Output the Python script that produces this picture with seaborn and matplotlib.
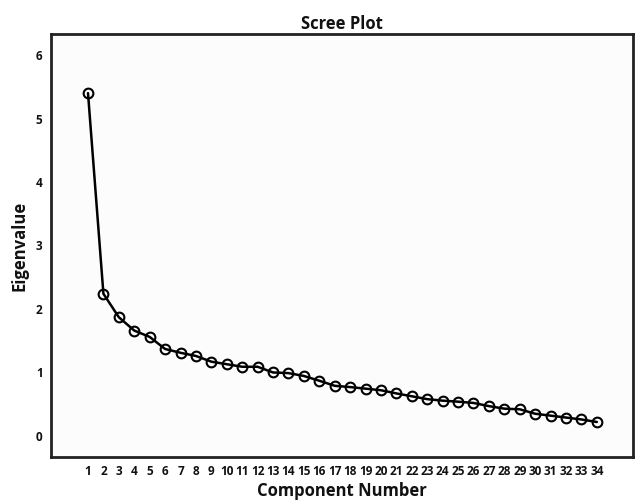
import numpy as np
import pandas as pd
import matplotlib
matplotlib.use('Agg')
import matplotlib.pyplot as plt
import seaborn as sns

components = list(range(1, 35))
eigenvalues = [5.40, 2.24, 1.87, 1.66, 1.56, 1.37, 1.31, 1.26, 1.17, 1.13,
               1.09, 1.09, 1.00, 0.99, 0.945, 0.87, 0.79, 0.77, 0.745, 0.72,
               0.67, 0.625, 0.58, 0.556, 0.54, 0.52, 0.47, 0.43, 0.42, 0.35,
               0.32, 0.29, 0.26, 0.22]

df = pd.DataFrame({'Component Number': components, 'Eigenvalue': eigenvalues})

sns.set_style('white')
plt.rcParams['font.family'] = ['Open Sans', 'DejaVu Sans']

fig = plt.figure(figsize=(6.35, 5.01), dpi=100)
ax = fig.add_axes([0.0803, 0.088, 0.9167, 0.844])

sns.lineplot(data=df, x='Component Number', y='Eigenvalue', ax=ax,
             color='black', linewidth=1.8, marker='o', markersize=7,
             markerfacecolor='none', markeredgecolor='black', markeredgewidth=1.5)

ax.set_xlim(-1.4, 36.35)
ax.set_ylim(-0.33, 6.33)
ax.set_xticks(components)
ax.set_xticklabels([str(c) for c in components], fontsize=8.5, fontweight='bold')
ax.set_yticks(range(0, 7))
ax.set_yticklabels([str(v) for v in range(0, 7)], fontsize=8.5, fontweight='bold')
ax.tick_params(axis='both', direction='out', length=5, width=1.5, pad=1, colors='#111111')

for side in ax.spines.values():
    side.set_linewidth(2)
    side.set_color('#222222')

ax.set_facecolor('#fcfcfc')
ax.set_title('Scree Plot', fontsize=12, fontweight='bold', pad=4, color='#111111')
ax.set_xlabel('Component Number', fontsize=12, fontweight='bold', labelpad=3, color='#111111')
ax.set_ylabel('Eigenvalue', fontsize=12, fontweight='bold', labelpad=5, color='#111111')

fig.savefig('out.png', dpi=100)
